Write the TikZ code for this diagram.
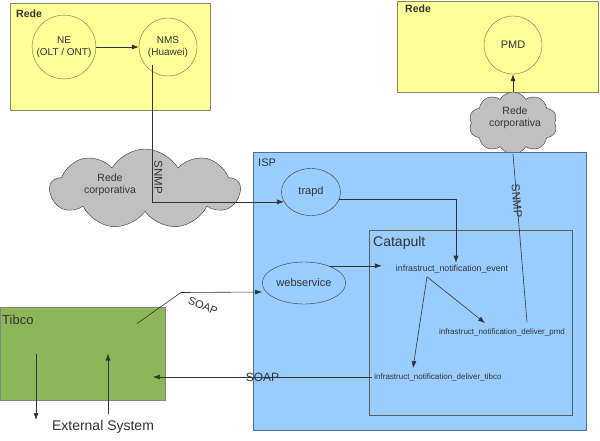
\documentclass[tikz,border=0pt]{standalone}
\usepackage{fontspec}
\setmainfont{Liberation Sans}
\usetikzlibrary{calc,positioning,shapes.geometric,shapes.symbols,arrows.meta}

\definecolor{redefill}{HTML}{FFFF99}
\definecolor{redeline}{HTML}{8C8C5A}
\definecolor{ispfill}{HTML}{99CCFF}
\definecolor{ispline}{HTML}{4D6F8F}
\definecolor{tibcofill}{HTML}{8DB658}
\definecolor{cloudfill}{HTML}{C0C0C0}
\definecolor{ink}{HTML}{333333}

\newcommand{\fsz}[2]{\fontsize{#1}{#2}\selectfont}

\begin{document}
\begin{tikzpicture}[
                x=1pt,y=-1pt,
                every node/.append style={text=ink,inner sep=2pt},
                area/.style={draw=#1,rectangle,line width=0.7pt},
                station/.style={circle,draw=redeline!80!black,fill=redefill,minimum size=58pt,align=center,font=\fsz{10}{12}},
                daemon/.style={ellipse,draw=ink,fill=ispfill,font=\fsz{11}{12}},
                netcloud/.style={cloud,cloud puffs=#1,cloud puff arc=120,draw=ink,fill=cloudfill,inner sep=0pt},
                func/.style={font=\fsz{8}{9}},
                link/.style={draw=ink,line width=0.6pt},
                arr/.style={link,-{Latex[length=7pt,width=5pt]}}
            ]
                \useasboundingbox (0,0) rectangle (600,440);

                % the two networks
                \node[area=redeline,fill=redefill,minimum width=200pt,minimum height=107pt] (rede1) at (110,56.5) {};
                \node[font=\bfseries\fsz{10.5}{12},anchor=west] (rede1lbl) at (14,14) {Rede};
                \node[area=redeline,fill=redefill,minimum width=201pt,minimum height=91pt] (rede2) at (497.5,46.5) {};
                \node[font=\bfseries\fsz{10.5}{12},anchor=west] (rede2lbl) at (403,9) {Rede};
                \node[station] (ne)  at (64,47)  {NE\\(OLT / ONT)};
                \node[station] (nms) at (168,47) {NMS\\(Huawei)};
                \node[station,font=\fsz{11}{12}] (pmd) at (513,45) {PMD};

                % clouds
                \node[netcloud=9,minimum width=190pt,minimum height=80pt] (cloudL) at (145,189) {};
                \node[font=\fsz{10.5}{12},align=center] (cloudLtxt) at (110,185) {Rede\\corporativa};
                \node[netcloud=10,minimum width=88pt,minimum height=62pt] (cloudR) at (513,123) {};
                \node[font=\fsz{10.5}{12},align=center] (cloudRtxt) at (515,118) {Rede\\corporativa};

                % ISP and Catapult
                \node[area=ispline,fill=ispfill,minimum width=333pt,minimum height=278pt] (isp) at (419.5,291) {};
                \node[font=\fsz{11}{12},anchor=west] (isplbl) at (256,163) {ISP};
                \node[daemon,minimum width=59pt,minimum height=47pt] (trapd) at (311,192) {trapd};
                \node[daemon,minimum width=74pt,minimum height=42pt] (webservice) at (304,283) {webservice};
                \node[area=ink!80,fill=ispfill,minimum width=203pt,minimum height=185pt] (catapult) at (470.5,322.5) {};
                \node[font=\fsz{14}{16},anchor=west] (catlbl) at (371,243) {Catapult};
                \node[func,font=\fsz{8.8}{10}] (event) at (452,269) {infrastruct\_notification\_event};
                \node[func] (pmdout) at (502,332) {infrastruct\_notification\_deliver\_pmd};
                \node[func] (tibout) at (438,377) {infrastruct\_notification\_deliver\_tibco};

                % Tibco
                \node[area=ink!60,fill=tibcofill,minimum width=165pt,minimum height=93pt] (tibco) at (83,353.5) {};
                \node[font=\fsz{13}{15},anchor=west] (tibcolbl) at (0,320) {Tibco};
                \node[font=\fsz{14}{16}] (ext) at (103,427) {External System};
                \coordinate (extout) at (36,420);

                % connectors
                \draw[arr] (ne) -- (nms);
                \draw[arr] ([xshift=-16pt,yshift=-18pt]nms.center) |- node[pos=0.41,rotate=-90,anchor=south,font=\fsz{11.5}{12}] {SNMP} (trapd.200);
                \draw[arr] (trapd.-15) -| ([xshift=4pt]event.north);
                \draw[arr] (webservice.35) -- ($(webservice.35 -| event.west)+(-12,0)$);
                \draw[arr] ([xshift=-25pt,yshift=-1.5pt]event.south) -- ([xshift=-17pt,yshift=3pt]pmdout.north);
                \draw[arr] ([xshift=-25pt,yshift=-1.5pt]event.south) -- ([xshift=-25pt,yshift=3pt]tibout.north);
                \draw[link] (cloudR.south) -- node[sloped,pos=0.28,font=\fsz{11.5}{12}] {SNMP} ([xshift=25pt,yshift=4pt]pmdout.north);
                \draw[arr] (cloudR.north) -- (pmd.south);
                \draw[arr] ([xshift=54pt,yshift=30pt]tibco.center) -- ++(44,-31) -- ([yshift=-9pt]webservice.west);
                \node[rotate=-22,font=\fsz{11}{12}] (soaplbl) at (203,306) {SOAP};
                \draw[arr] (tibout.west) -- node[font=\fsz{12}{12}] {SOAP} ($(tibout.west -| tibco.east)+(-13,0)$);
                \draw[arr] (tibco.center -| extout) -- (extout);
                \draw[arr] ([xshift=5pt,yshift=4pt]ext.north) -- ([xshift=25pt]tibco.center);
            \end{tikzpicture}
\end{document}
